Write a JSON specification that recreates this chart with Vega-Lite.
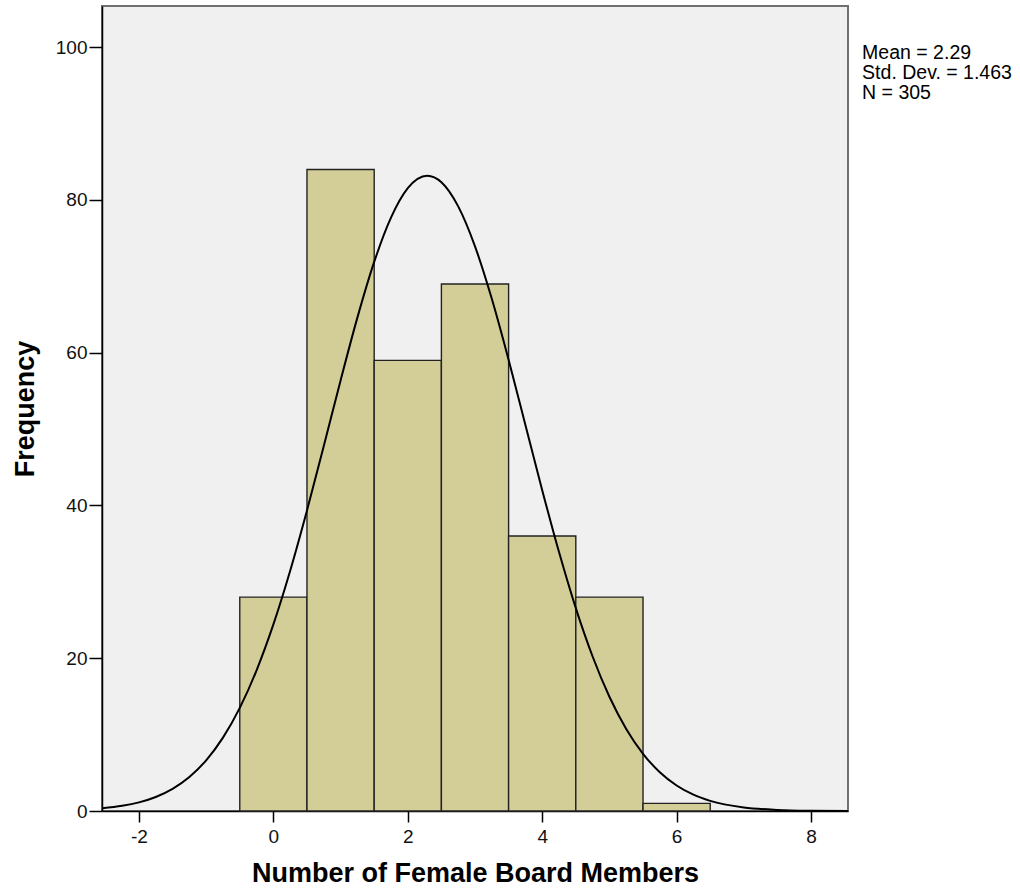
{
  "$schema": "https://vega.github.io/schema/vega-lite/v6.json",
  "autosize": {"type": "none"},
  "width": 746,
  "height": 805,
  "padding": {"left": 102, "top": 6, "right": 172, "bottom": 85},
  "background": "white",
  "config": {
    "view": {"fill": "#f0f0f0", "stroke": "#707070", "strokeWidth": 2},
    "font": "Liberation Sans",
    "axis": {
      "grid": false,
      "domainColor": "#000000",
      "domainWidth": 1.5,
      "tickColor": "#000000",
      "tickWidth": 1.5,
      "labelColor": "#111111",
      "labelFont": "Liberation Sans",
      "labelFontSize": 19,
      "titleFont": "Liberation Sans",
      "titleFontSize": 27,
      "titleFontWeight": "bold",
      "titleColor": "#000000"
    }
  },
  "datasets": {
    "bars": [
      {"value": 0, "start": -0.5, "end": 0.5, "count": 28},
      {"value": 1, "start": 0.5, "end": 1.5, "count": 84},
      {"value": 2, "start": 1.5, "end": 2.5, "count": 59},
      {"value": 3, "start": 2.5, "end": 3.5, "count": 69},
      {"value": 4, "start": 3.5, "end": 4.5, "count": 36},
      {"value": 5, "start": 4.5, "end": 5.5, "count": 28},
      {"value": 6, "start": 5.5, "end": 6.5, "count": 1}
    ],
    "curve": [
      {"x": -2.55, "y": 0.349},
      {"x": -2.25, "y": 0.674},
      {"x": -2.0, "y": 1.129},
      {"x": -1.75, "y": 1.837},
      {"x": -1.5, "y": 2.902},
      {"x": -1.25, "y": 4.452},
      {"x": -1.0, "y": 6.635},
      {"x": -0.75, "y": 9.603},
      {"x": -0.5, "y": 13.497},
      {"x": -0.25, "y": 18.427},
      {"x": 0.0, "y": 24.43},
      {"x": 0.25, "y": 31.46},
      {"x": 0.5, "y": 39.35},
      {"x": 0.75, "y": 47.79},
      {"x": 1.0, "y": 56.38},
      {"x": 1.25, "y": 64.6},
      {"x": 1.5, "y": 71.89},
      {"x": 1.75, "y": 77.69},
      {"x": 2.0, "y": 81.55},
      {"x": 2.29, "y": 83.17},
      {"x": 2.5, "y": 82.32},
      {"x": 2.75, "y": 79.16},
      {"x": 3.0, "y": 73.93},
      {"x": 3.25, "y": 67.06},
      {"x": 3.5, "y": 59.08},
      {"x": 3.75, "y": 50.55},
      {"x": 4.0, "y": 42.01},
      {"x": 4.25, "y": 33.9},
      {"x": 4.5, "y": 26.57},
      {"x": 4.75, "y": 20.23},
      {"x": 5.0, "y": 14.96},
      {"x": 5.25, "y": 10.74},
      {"x": 5.5, "y": 7.491},
      {"x": 5.75, "y": 5.074},
      {"x": 6.0, "y": 3.338},
      {"x": 6.25, "y": 2.133},
      {"x": 6.5, "y": 1.324},
      {"x": 7.0, "y": 0.467},
      {"x": 7.5, "y": 0.147},
      {"x": 8.0, "y": 0.041},
      {"x": 8.55, "y": 0.009}
    ],
    "stats": [
      {"label": ["Mean = 2.29", "Std. Dev. = 1.463", "N = 305"]}
    ]
  },
  "layer": [
    {
      "data": {"name": "bars"},
      "mark": {"type": "rect", "fill": "#d3ce97", "stroke": "#222222", "strokeWidth": 1.4},
      "encoding": {
        "x": {
          "field": "start", "type": "quantitative",
          "scale": {"domain": [-2.55, 8.55], "nice": false, "zero": false},
          "axis": {
            "values": [-2, 0, 2, 4, 6, 8],
            "labelExpr": "datum.value + ''",
            "tickSize": 11,
            "labelPadding": 5,
            "title": "Number of Female Board Members",
            "titlePadding": 14
          }
        },
        "x2": {"field": "end"},
        "y": {
          "field": "count", "type": "quantitative",
          "scale": {"domain": [0, 105.4], "nice": false},
          "axis": {
            "values": [0, 20, 40, 60, 80, 100],
            "labelExpr": "datum.value + ''",
            "tickSize": 13,
            "labelPadding": 2,
            "title": "Frequency",
            "titlePadding": 16
          }
        },
        "y2": {"datum": 0}
      }
    },
    {
      "data": {"name": "curve"},
      "mark": {"type": "line", "color": "#000000", "strokeWidth": 2, "interpolate": "monotone", "clip": true},
      "encoding": {
        "x": {"field": "x", "type": "quantitative"},
        "y": {"field": "y", "type": "quantitative"}
      }
    },
    {
      "data": {"name": "stats"},
      "mark": {"type": "text", "align": "left", "baseline": "top", "fontSize": 19.5, "lineHeight": 20, "color": "#000000", "font": "Liberation Sans"},
      "encoding": {
        "x": {"datum": 8.76},
        "y": {"datum": 100.46},
        "text": {"field": "label"}
      }
    }
  ]
}
